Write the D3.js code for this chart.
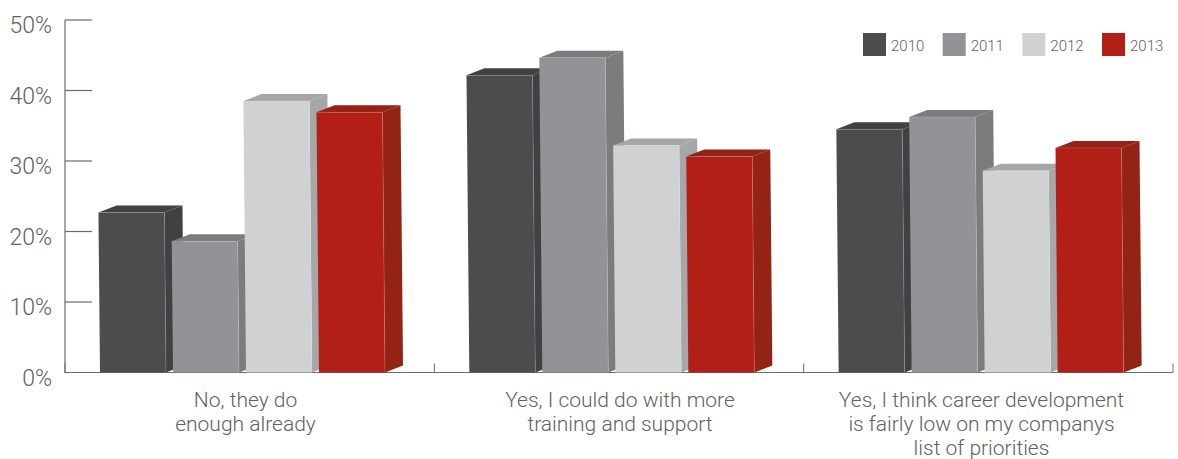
<!DOCTYPE html>
<html><head><meta charset="utf-8">
<script src="https://cdn.jsdelivr.net/npm/d3@7"></script>
<style>html,body{margin:0;background:#fff}svg{display:block}text{font-family:Roboto,"Liberation Sans",sans-serif;font-weight:300;fill:#5f6062}</style>
</head><body><svg id="c" width="1178" height="459"></svg>
<script>
const categories = ["No, they do\nenough already","Yes, I could do with more\ntraining and support","Yes, I think career development\nis fairly low on my companys\nlist of priorities"];
const years = ["2010","2011","2012","2013"];
const s2010 = [22.7,42.15,34.5];
const s2011 = [18.6,44.65,36.25];
const s2012 = [38.5,32.2,28.6];
const s2013 = [36.9,30.65,31.85];
const allSeries = [s2010,s2011,s2012,s2013];
const yTicks = [0,10,20,30,40,50];
const front = ["#4c4c4e","#929396","#d0d1d3","#b11f16"];
const side  = ["#414143","#7b7c7d","#a6a7a8","#932315"];

const svg = d3.select("#c");
const y = d3.scaleLinear().domain([0,50]).range([372.5,20]);
const x0 = d3.scaleBand().domain(categories).range([65,1173]);
const x1 = d3.scaleBand().domain(years).range([35,320]).paddingInner(7/73);
const bw = x1.bandwidth(), dx = 18, dy = -7, skew = 0.0096;
const sk = v => (y(v)-y(0))*skew;   // slight lean of the original artwork

// axes
const g = svg.append("g");
const axisCol = "#6b6c6e";
g.append("path").attr("d",`M65,${y(50)}V${y(0)}H${x0.range()[1]}`).attr("fill","none").attr("stroke",axisCol).attr("stroke-width",1.2);
yTicks.forEach(t=>{
  if(t>0) g.append("line").attr("x1",65).attr("x2",92).attr("y1",y(t)).attr("y2",y(t)).attr("stroke",axisCol).attr("stroke-width",1.2);
  g.append("text").attr("x",52).attr("y",y(t)+13).attr("text-anchor","end").attr("font-size",23).text(t+"%");
});
categories.concat([null]).forEach((c,i)=>{
  const xx = c===null ? x0.range()[1] : x0(c);
  g.append("line").attr("x1",xx).attr("x2",xx).attr("y1",y(0)).attr("y2",y(0)-9).attr("stroke",axisCol).attr("stroke-width",1);
});

// bars
categories.forEach((c,ci)=>{
  years.forEach((yr,si)=>{
    const v = allSeries[si][ci];
    const l = x0(c)+x1(yr), r = l+bw, b = y(0), t = y(v), s = sk(v);
    const lt = l+s, rt = r+s;
    const bar = svg.append("g");
    bar.append("path").attr("fill",side[si]).attr("d",`M${r},${b}L${r+dx},${b+dy}L${rt+dx},${t+dy}L${rt},${t}Z`);
    bar.append("path").attr("fill",side[si]).attr("d",`M${lt},${t}L${lt+dx},${t+dy}L${rt+dx},${t+dy}L${rt},${t}Z`);
    bar.append("path").attr("fill",front[si]).attr("d",`M${l},${b}L${lt},${t}L${rt},${t}L${r},${b}Z`);
    bar.append("path").attr("fill","none").attr("stroke","#fff").attr("stroke-opacity",.2).attr("stroke-width",.8).attr("d",`M${lt},${t}L${rt},${t}L${r},${b}`);
  });
});

// category labels
const cx = [245.5,620,981.5];
categories.forEach((c,i)=>{
  c.split("\n").forEach((ln,j)=>{
    svg.append("text").attr("x",cx[i]).attr("y",406.5+j*24).attr("text-anchor","middle").attr("font-size",21).text(ln);
  });
});

// legend
const lx = d3.scalePoint().domain(years).range([863,1102]);
years.forEach((yr,i)=>{
  svg.append("rect").attr("x",lx(yr)).attr("y",33).attr("width",23).attr("height",23).attr("fill",front[i]);
  svg.append("text").attr("x",lx(yr)+28).attr("y",51).attr("font-size",15).text(yr);
});
</script></body></html>
